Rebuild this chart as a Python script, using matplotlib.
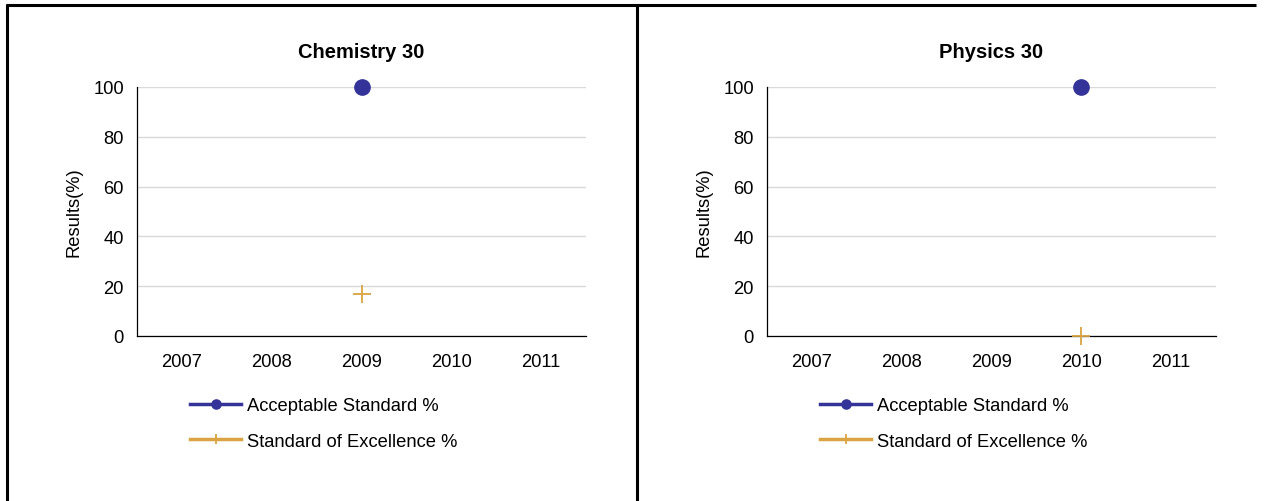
import numpy as np
import matplotlib
matplotlib.use("Agg")
import matplotlib.pyplot as plt
from matplotlib.lines import Line2D

plt.rcParams['font.family'] = ['Liberation Sans', 'DejaVu Sans']

years = ["2007", "2008", "2009", "2010", "2011"]
yticks = [0, 20, 40, 60, 80, 100]

chem_title = "Chemistry 30"
chem_acceptable = [np.nan, np.nan, 100.0, np.nan, np.nan]
chem_excellence = [np.nan, np.nan, 16.7, np.nan, np.nan]

phys_title = "Physics 30"
phys_acceptable = [np.nan, np.nan, np.nan, 100.0, np.nan]
phys_excellence = [np.nan, np.nan, np.nan, 0.0, np.nan]

series_labels = ["Acceptable Standard %", "Standard of Excellence %"]
blue = "#333399"
gold = "#D9A441"

W, H = 1265, 502
fig = plt.figure(figsize=(W / 100, H / 100), dpi=100)

def fx(px):
    return px / W

def fy(py):
    return 1 - py / H

# table borders around the two panels
border_kw = dict(color="black", lw=2.2, transform=fig.transFigure, solid_capstyle="butt")
fig.add_artist(Line2D([fx(6), fx(1256)], [fy(5.5), fy(5.5)], **border_kw))
fig.add_artist(Line2D([fx(7.5), fx(7.5)], [fy(5), fy(502)], **border_kw))
fig.add_artist(Line2D([fx(637), fx(637)], [fy(5), fy(502)], **border_kw))

panels = [
    (137, chem_title, chem_acceptable, chem_excellence, 190),
    (767, phys_title, phys_acceptable, phys_excellence, 820),
]

FS = 13.2
x = np.arange(len(years))
for left_px, title, acc, exc, leg_px in panels:
    ax = fig.add_axes([fx(left_px), fy(337), 449 / W, (337 - 88) / H])
    ax.plot(x, acc, color=blue, lw=2.5, marker="o", markersize=11,
            label=series_labels[0], clip_on=False, zorder=5)
    ax.plot(x, exc, color=gold, lw=2.5, marker="+", markersize=13,
            markeredgewidth=1.3, label=series_labels[1], clip_on=False, zorder=5)
    ax.set_xlim(-0.5, len(years) - 0.5)
    ax.set_ylim(0, 100)
    ax.set_xticks(x)
    ax.set_xticklabels(years)
    ax.set_yticks(yticks)
    ax.yaxis.grid(True, color="#d9d9d9", lw=1)
    ax.set_axisbelow(True)
    ax.tick_params(axis="both", length=0, labelsize=FS, colors="black")
    ax.tick_params(axis="y", pad=9.5)
    ax.tick_params(axis="x", pad=12.5)
    for side in ("top", "right"):
        ax.spines[side].set_visible(False)
    for side in ("left", "bottom"):
        ax.spines[side].set_color("black")
        ax.spines[side].set_linewidth(0.9)
    ax.set_ylabel("Results(%)", fontsize=FS, labelpad=8)
    ax.set_title(title, fontsize=14.5, fontweight="bold", pad=21.5)
    ax.legend(loc="upper left", bbox_to_anchor=(fx(leg_px), fy(398)),
              bbox_transform=fig.transFigure, frameon=False,
              fontsize=FS, handlelength=2.8, handletextpad=0.32,
              labelspacing=1.03, borderpad=0, borderaxespad=0,
              markerscale=0.6)

fig.savefig("out.png", dpi=100)
